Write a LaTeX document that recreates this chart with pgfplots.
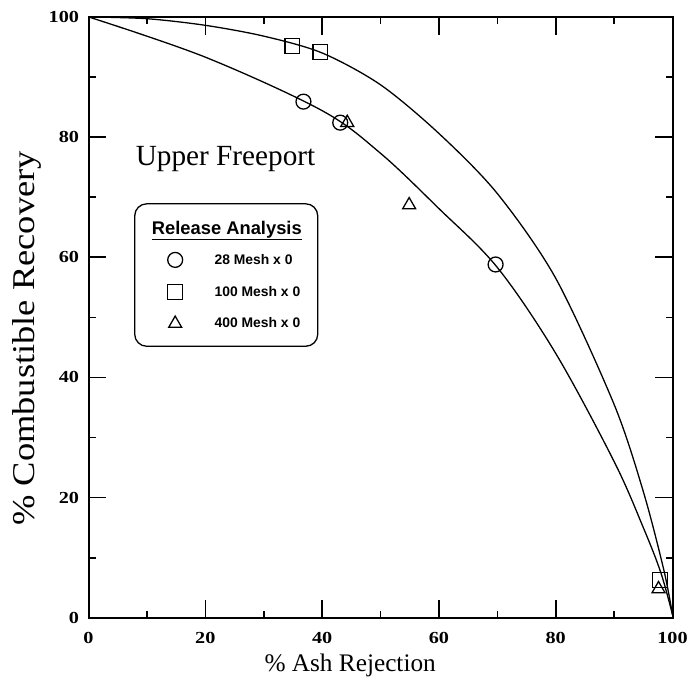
\documentclass[border=0pt]{standalone}
\usepackage{fontspec}
\setmainfont{Liberation Serif}
\setsansfont{Liberation Sans}
\newfontfamily\tickfont[FakeStretch=1.2]{Liberation Serif}
\newfontfamily\ylabfont[FakeStretch=1.15]{Liberation Serif}
\usepackage{pgfplots}
\pgfplotsset{compat=1.18}
\begin{document}
\begin{tikzpicture}
\tikzset{every mark/.append style={sharp corners}}
\begin{axis}[
  scale only axis, width=587bp, height=604bp,
  xmin=0, xmax=100, ymin=0, ymax=100,
  xtick={0,20,...,100}, ytick={0,20,...,100},
  minor tick num=1,
  tick align=inside,
  major tick length=18bp, minor tick length=7bp,
  every tick/.style={black, line width=1.6bp},
  axis line style={line width=2bp},
  tick label style={font=\tickfont\bfseries\fontsize{17}{17}\selectfont},
  /pgf/number format/assume math mode=true,
  xticklabel style={yshift=-11bp},
  yticklabel style={xshift=-6bp},
  xlabel={\% Ash Rejection},
  ylabel={\% Combustible Recovery},
  xlabel style={font=\fontsize{25.5}{25.5}\selectfont, at={(axis description cs:0.448,-0.08)}, anchor=center},
  ylabel style={font=\ylabfont\fontsize{32}{32}\selectfont, at={(axis description cs:-0.106,0.465)}, anchor=center},
  legend style={at={(axis cs:7.8,69)}, anchor=north west, draw=black, line width=1.3bp,
    rounded corners=12bp, inner xsep=16bp, inner ysep=17bp, row sep=17bp,
    font=\sffamily\bfseries\fontsize{14}{14}\selectfont, nodes={inner sep=0pt}},
  legend cell align=left,
  legend image code/.code={\path (-24bp,0bp) (39bp,0bp); \draw[#1] plot coordinates {(0bp,0bp)};},
]
% fitted curves
\addplot[black, line width=1.3bp, smooth, tension=0.55, forget plot] coordinates {
  (0,100) (20,93.3) (40,84.4) (50,77.3) (60,68.1) (70,58.3) (80,44)
  (90,26) (95,15) (98,7.5) (100,0.5)};
\addplot[black, line width=1.3bp, smooth, tension=0.5, forget plot] coordinates {
  (0,100) (10,99.7) (20,98.6) (30,96.8) (40,94) (50,88.7) (60,80.6) (70,70.6)
  (80,56.5) (90,35.5) (95,21) (98.5,8) (100,0.5)};
\addlegendimage{empty legend}
\addlegendentry{\hspace*{-63bp}\fontsize{18.5}{18.5}\selectfont\underline{Release Analysis}}
\addplot[only marks, mark=o, mark size=7.5bp, line width=1.3bp, mark options={fill=white}] coordinates {
  (36.8,85.9) (43.1,82.4) (69.7,58.8)};
\addlegendentry{28 Mesh x 0}
\addplot[only marks, mark=square, mark size=7.5bp, line width=1.3bp, mark options={fill=white}] coordinates {
  (34.9,95.2) (39.7,94.2) (97.8,6.3)};
\addlegendentry{100 Mesh x 0}
\addplot[only marks, mark=triangle, mark size=7.5bp, line width=1.3bp, mark options={fill=white}] coordinates {
  (44.3,82.4) (54.9,68.7) (97.6,4.8)};
\addlegendentry{400 Mesh x 0}
\node[anchor=base west, font=\fontsize{29.5}{29.5}\selectfont] at (axis cs:7.5,75.3) {Upper Freeport};
\coordinate (o) at (rel axis cs:0,0);
\end{axis}
\path (o) ++(-89bp,-66bp) rectangle ++(691bp,687bp);
\end{tikzpicture}
\end{document}
